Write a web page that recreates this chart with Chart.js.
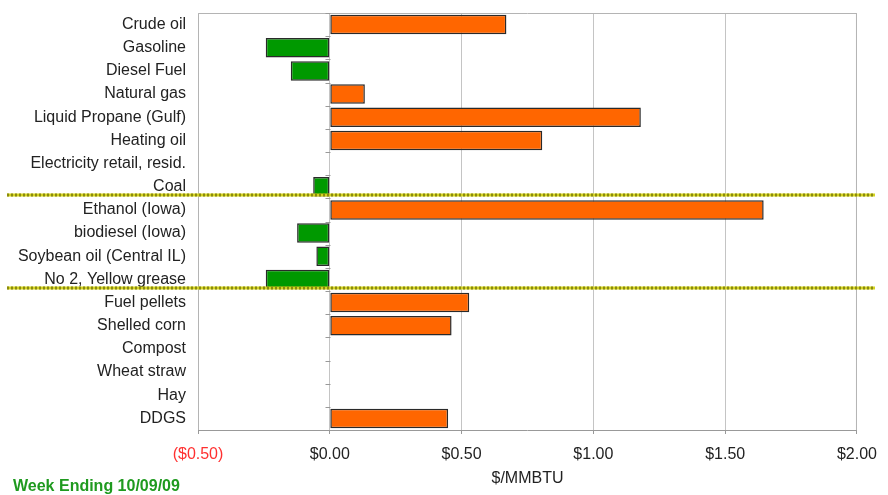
<!DOCTYPE html>
<html>
<head>
<meta charset="utf-8">
<script src="https://cdn.jsdelivr.net/npm/chart.js@4.4.0/dist/chart.umd.min.js"></script>
<style>
    html, body { margin: 0; padding: 0; background: #fff; }
    #wrap { position: relative; width: 888px; height: 495px; }
</style>
</head>
<body>
<div id="wrap"><canvas id="chart"></canvas></div>
<script>
const categories = [
    "Crude oil", "Gasoline", "Diesel Fuel", "Natural gas", "Liquid Propane (Gulf)",
    "Heating oil", "Electricity retail, resid.", "Coal", "Ethanol (Iowa)", "biodiesel (Iowa)",
    "Soybean oil (Central IL)", "No 2, Yellow grease", "Fuel pellets", "Shelled corn",
    "Compost", "Wheat straw", "Hay", "DDGS"
];
const changes = [
    0.67, -0.243, -0.148, 0.133, 1.18,
    0.806, null, -0.063, 1.646, -0.124,
    -0.051, -0.243, 0.529, 0.462,
    null, null, null, 0.449
];
// dotted separators sit between these category indexes
const sectionBreaks = [7.5, 11.5];
const axisTitle = "$/MMBTU";
const footnote = "Week Ending 10/09/09";

const FONT = "'Liberation Sans', Arial, sans-serif";

function money(v) {
    return v < 0 ? "($" + Math.abs(v).toFixed(2) + ")" : "$" + v.toFixed(2);
}

const extras = {
    id: "extras",
    beforeDatasetsDraw(chart) {
        const {ctx, chartArea: a, scales: {x, y}} = chart;
        ctx.save();
        // frame
        ctx.strokeStyle = "#b4b4b4";
        ctx.lineWidth = 1;
        ctx.beginPath();
        ctx.moveTo(a.left + 0.5, a.bottom);
        ctx.lineTo(a.left + 0.5, a.top + 0.5);
        ctx.lineTo(a.right - 0.5, a.top + 0.5);
        ctx.lineTo(a.right - 0.5, a.bottom);
        ctx.stroke();
        // small ticks on the zero axis between categories
        const x0 = Math.round(x.getPixelForValue(0)) + 0.5;
        ctx.strokeStyle = "#999";
        ctx.beginPath();
        for (let i = 0; i < categories.length; i++) {
            const yy = Math.round(y.getPixelForValue(i - 0.5)) + 0.5;
            ctx.moveTo(x0 - 5, yy);
            ctx.lineTo(x0, yy);
        }
        ctx.stroke();
        ctx.restore();
    },
    afterDatasetsDraw(chart) {
        const {ctx, width, height, scales: {y}} = chart;
        ctx.save();
        sectionBreaks.forEach(b => {
            const yy = Math.round(y.getPixelForValue(b)) - 3;
            ctx.lineWidth = 3;
            ctx.setLineDash([]);
            ctx.strokeStyle = "#d4d420";
            ctx.beginPath();
            ctx.moveTo(7, yy);
            ctx.lineTo(width - 13, yy);
            ctx.stroke();
            ctx.setLineDash([2, 2]);
            ctx.strokeStyle = "#8a8a10";
            ctx.beginPath();
            ctx.moveTo(7, yy);
            ctx.lineTo(width - 13, yy);
            ctx.stroke();
        });
        ctx.setLineDash([]);
        ctx.fillStyle = "#1f9a1f";
        ctx.font = "bold 16px " + FONT;
        ctx.textAlign = "left";
        ctx.textBaseline = "alphabetic";
        ctx.fillText(footnote, 13, height - 4);
        ctx.restore();
    }
};

new Chart(document.getElementById("chart"), {
    type: "bar",
    data: {
        labels: categories,
        datasets: [{
            data: changes,
            backgroundColor: c => (c.raw < 0 ? "#009900" : "#ff6600"),
            borderColor: "#2a2a2a",
            borderWidth: 1.5,
            borderSkipped: false,
            barPercentage: 0.84,
            categoryPercentage: 1
        }]
    },
    options: {
        indexAxis: "y",
        responsive: true,
        maintainAspectRatio: false,
        animation: false,
        layout: {padding: {top: 13, right: 31, bottom: 7, left: 0}},
        plugins: {
            legend: {display: false},
            tooltip: {enabled: false}
        },
        scales: {
            x: {
                min: -0.5,
                max: 2,
                ticks: {
                    stepSize: 0.5,
                    callback: v => money(v),
                    color: c => (c.tick.value < 0 ? "#ff3030" : "#222"),
                    font: {family: FONT, size: 16},
                    padding: 11,
                    maxRotation: 0
                },
                grid: {color: "#c4c4c4", tickLength: 4, tickColor: "#999"},
                border: {color: "#999"},
                title: {
                    display: true,
                    text: axisTitle,
                    color: "#222",
                    font: {family: FONT, size: 16},
                    padding: {top: 0, bottom: 0}
                },
                afterFit: s => { s.height = 58; }
            },
            y: {
                grid: {display: false, drawTicks: false},
                border: {display: false},
                ticks: {
                    color: "#222",
                    font: {family: FONT, size: 16},
                    padding: 12,
                    autoSkip: false
                },
                afterFit: s => {
                    s.width = 198;
                    s.paddingTop = 0;
                    s.paddingBottom = 0;
                }
            }
        }
    },
    plugins: [extras]
});
</script>
</body>
</html>
